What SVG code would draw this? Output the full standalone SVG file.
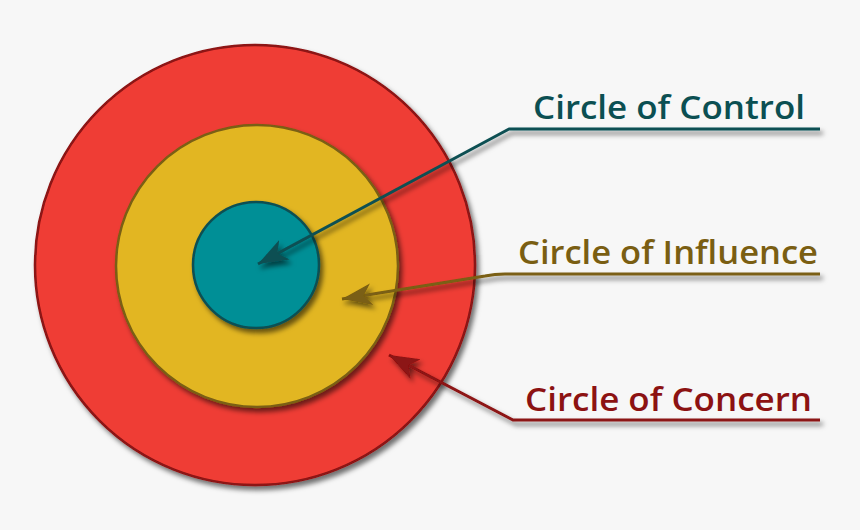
<svg xmlns="http://www.w3.org/2000/svg" width="860" height="530" viewBox="0 0 860 530">
  <defs>
    <filter id="sh" x="-20%" y="-20%" width="140%" height="140%">
      <feDropShadow dx="3" dy="4" stdDeviation="2.5" flood-color="#000" flood-opacity="0.55"/>
    </filter>
    <marker id="ahC" markerUnits="userSpaceOnUse" markerWidth="34" markerHeight="26" refX="30" refY="13" orient="auto" viewBox="0 0 34 26">
      <path d="M0,2 L30,13 L0,24 L8,13 z" fill="#0b4f52"/>
    </marker>
    <marker id="ahI" markerUnits="userSpaceOnUse" markerWidth="34" markerHeight="26" refX="30" refY="13" orient="auto" viewBox="0 0 34 26">
      <path d="M0,2 L30,13 L0,24 L8,13 z" fill="#7a5e12"/>
    </marker>
    <marker id="ahR" markerUnits="userSpaceOnUse" markerWidth="34" markerHeight="26" refX="30" refY="13" orient="auto" viewBox="0 0 34 26">
      <path d="M0,2 L30,13 L0,24 L8,13 z" fill="#8c1212"/>
    </marker>
  </defs>
  <style>
    .lbl { font-family: "Open Sans", "Liberation Sans", sans-serif; font-weight: 600; font-size: 32px; }
    .conn { fill: none; stroke-width: 3; stroke-linejoin: round; }
  </style>
  <rect x="0" y="0" width="860" height="530" fill="#f7f7f7"/>

  <g id="concern" filter="url(#sh)">
    <circle cx="255" cy="265" r="220" fill="#ef3e36" stroke="#8c1212" stroke-width="2.5"/>
  </g>
  <g id="influence" filter="url(#sh)">
    <circle cx="257" cy="266" r="141" fill="#e2b623" stroke="#7a5e12" stroke-width="2.5"/>
  </g>
  <g id="control" filter="url(#sh)">
    <circle cx="256" cy="265" r="63" fill="#008f96" stroke="#0b4f52" stroke-width="2.5"/>
  </g>

  <g id="connectors" filter="url(#sh)">
    <path class="conn" d="M820,129 L509,129 L258,264" stroke="#0b4f52" marker-end="url(#ahC)"/>
    <path class="conn" d="M820,274 L505,274 Q495,274 485,276 L342,299" stroke="#7a5e12" marker-end="url(#ahI)"/>
    <path class="conn" d="M820,420 L513,420 L389,355" stroke="#8c1212" marker-end="url(#ahR)"/>
  </g>

  <g id="label-control">
    <text class="lbl" x="533" y="119" fill="#0b4f52" textLength="272" lengthAdjust="spacingAndGlyphs">Circle of Control</text>
  </g>
  <g id="label-influence">
    <text class="lbl" x="518" y="264" fill="#7a5e12" textLength="300" lengthAdjust="spacingAndGlyphs">Circle of Influence</text>
  </g>
  <g id="label-concern">
    <text class="lbl" x="525" y="411" fill="#8c1212" textLength="287" lengthAdjust="spacingAndGlyphs">Circle of Concern</text>
  </g>
</svg>
